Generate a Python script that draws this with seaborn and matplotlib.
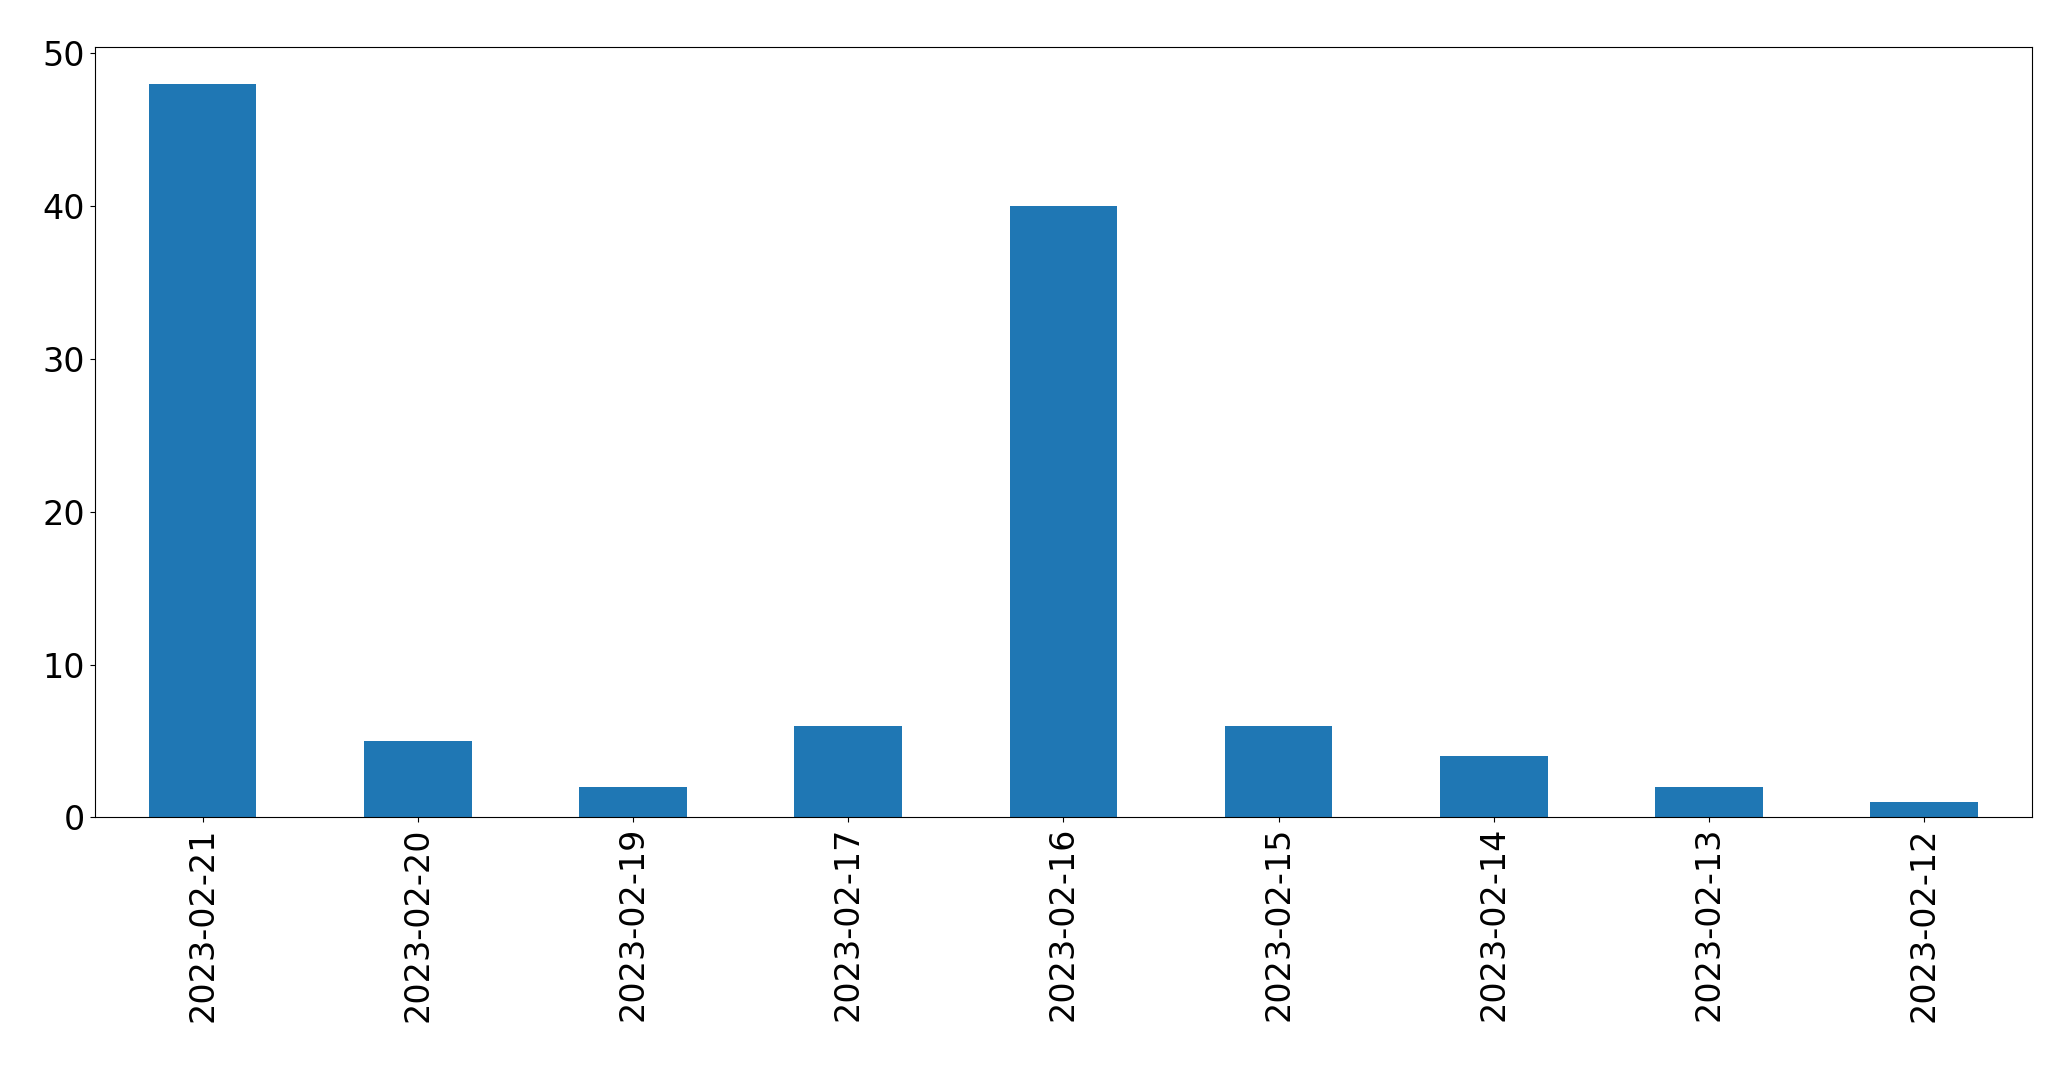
import pandas as pd
import matplotlib
matplotlib.use("Agg")
import matplotlib.pyplot as plt
import seaborn as sns

# Data
dates = ["2023-02-21", "2023-02-20", "2023-02-19", "2023-02-17", "2023-02-16",
         "2023-02-15", "2023-02-14", "2023-02-13", "2023-02-12"]
counts = [48, 5, 2, 6, 40, 6, 4, 2, 1]

df = pd.DataFrame({"date": dates, "count": counts})

plt.rcParams['font.family'] = ['DejaVu Sans']

fig, ax = plt.subplots(figsize=(20.71, 10.69), dpi=100)
fig.subplots_adjust(left=0.0459, right=0.981, top=0.956, bottom=0.2354)

sns.barplot(data=df, x="date", y="count", order=dates, color="#1f77b4",
            saturation=1, width=0.5, ax=ax)

ax.set_xlim(-0.5, len(dates) - 0.5)
ax.set_ylim(0, max(counts) * 1.05)
ax.set_xlabel("")
ax.set_ylabel("")
ax.tick_params(axis="both", labelsize=24)
plt.setp(ax.get_xticklabels(), rotation=90)

fig.savefig("out.png", dpi=100)
